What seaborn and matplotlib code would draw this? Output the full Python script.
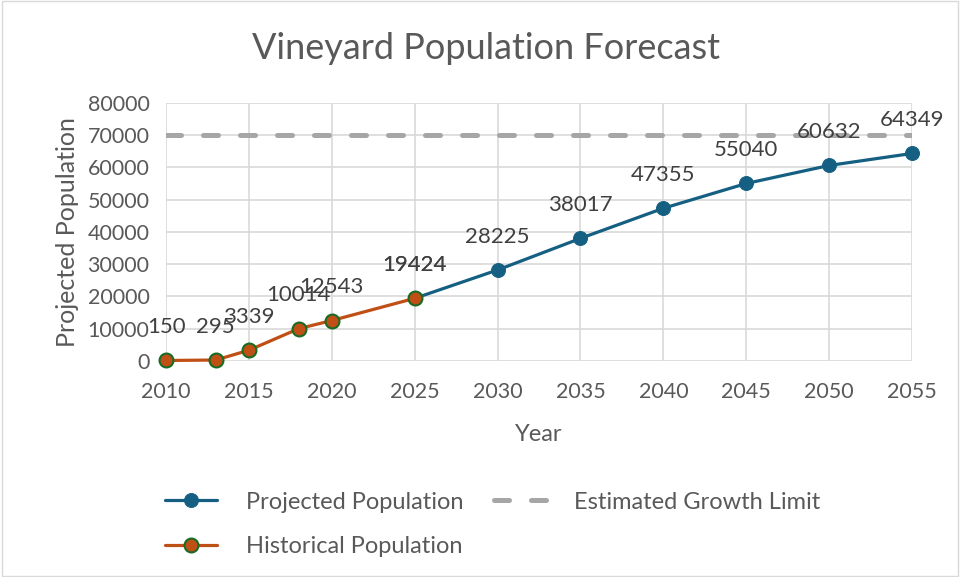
import numpy as np
import pandas as pd
import seaborn as sns
import matplotlib.pyplot as plt
from matplotlib.patches import Rectangle

# data
hist_years = [2010, 2013, 2015, 2018, 2020, 2025]
hist_pop = [150, 295, 3339, 10014, 12543, 19424]
proj_years = [2025, 2030, 2035, 2040, 2045, 2050, 2055]
proj_pop = [19424, 28225, 38017, 47355, 55040, 60632, 64349]
limit_years = [2010, 2055]
limit_pop = [70000, 70000]

sns.set_style("white")
plt.rcParams['font.family'] = ['Lato', 'DejaVu Sans']
txt = '#595959'

hist = pd.DataFrame({'Year': hist_years, 'Pop': hist_pop})
proj = pd.DataFrame({'Year': proj_years, 'Pop': proj_pop})
lim = pd.DataFrame({'Year': limit_years, 'Pop': limit_pop})

fig = plt.figure(figsize=(9.6, 5.77), dpi=100)
ax = fig.add_axes([0.173, 0.3744, 0.777, 0.4471])

sns.lineplot(data=proj, x='Year', y='Pop', ax=ax, color='#156082', lw=2.3,
             marker='o', markersize=10, markeredgecolor='#156082',
             label='Projected Population', clip_on=False, zorder=4)
sns.lineplot(data=lim, x='Year', y='Pop', ax=ax, color='#A6A6A6', lw=3.6,
             dashes=False, label='Estimated Growth Limit', zorder=2)
ax.lines[-1].set_dashes([3, 4.4])
ax.lines[-1].set_dash_capstyle('round')
sns.lineplot(data=hist, x='Year', y='Pop', ax=ax, color='#C04F15', lw=2.3,
             marker='o', markersize=10, markeredgecolor='#196B24',
             markeredgewidth=1.5, label='Historical Population',
             clip_on=False, zorder=5)

for x, y in zip(proj_years + hist_years, proj_pop + hist_pop):
    ax.annotate(str(y), (x, y), xytext=(0, 24), textcoords='offset points',
                ha='center', va='center', fontsize=16, color='#404040')

ax.set_xlim(2010, 2055)
ax.set_ylim(0, 80000)
ax.set_xticks(range(2010, 2056, 5))
ax.set_yticks(range(0, 80001, 10000))
ax.grid(True, color='#D9D9D9', lw=1.2)
for s in ax.spines.values():
    s.set_visible(False)
ax.tick_params(labelsize=15.5, colors=txt, length=0)
ax.tick_params(axis='x', pad=15)
ax.tick_params(axis='y', pad=12)
ax.set_xlabel('Year', fontsize=17, color=txt, labelpad=16)
ax.set_ylabel('Projected Population', fontsize=18, color=txt, labelpad=6)
fig.suptitle('Vineyard Population Forecast', x=0.506, y=0.945,
             fontsize=26, color=txt)

ax.get_legend().remove()
h, l = ax.get_legend_handles_labels()
# column-major fill: Projected / Historical in first column, limit in second
order = [0, 2, 1]
fig.legend([h[i] for i in order], [l[i] for i in order], ncol=2,
           loc='center left', bbox_to_anchor=(0.15, 0.091),
           frameon=False, fontsize=17, labelcolor=txt, handlelength=2.2,
           columnspacing=1.3, labelspacing=1.0, handletextpad=1.2)

fig.patches.append(Rectangle((0.002, 0.002), 0.996, 0.996, transform=fig.transFigure,
                             fill=False, edgecolor='#D9D9D9', lw=1))

fig.savefig('out.png', dpi=100)
